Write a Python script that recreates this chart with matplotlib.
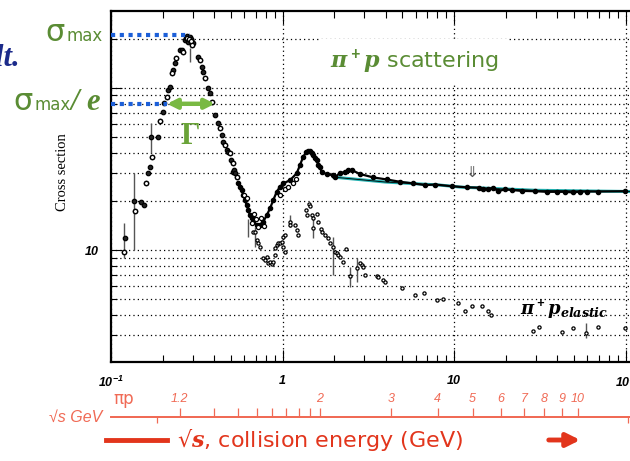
import numpy as np
import matplotlib
matplotlib.use("Agg")
import matplotlib.pyplot as plt
from matplotlib.ticker import NullFormatter, LogLocator
from matplotlib.lines import Line2D

plt.rcParams['mathtext.fontset'] = 'custom'
plt.rcParams['mathtext.rm'] = 'Liberation Sans:italic:bold'
plt.rcParams['mathtext.it'] = 'DejaVu Serif:italic:bold'
plt.rcParams['mathtext.bf'] = 'DejaVu Serif:bold'

# pi+ p total cross section, Delta region (p_lab GeV/c, sigma mb)
delta_p = [0.119, 0.1207, 0.136, 0.138, 0.1496, 0.1557, 0.160, 0.164, 0.1688, 0.1734,
           0.171, 0.188, 0.193, 0.201, 0.2037, 0.212, 0.215, 0.221, 0.227, 0.230,
           0.236, 0.2393, 0.2525, 0.2594, 0.263, 0.270, 0.272, 0.2774, 0.279, 0.281,
           0.284, 0.288, 0.2888, 0.292, 0.294, 0.2965, 0.298, 0.3006,
           0.3214, 0.330, 0.3393, 0.3437, 0.353, 0.3678, 0.3777, 0.388, 0.4038, 0.4206,
           0.4321, 0.4438, 0.4498, 0.462, 0.4746, 0.481, 0.494, 0.501, 0.514, 0.516,
           0.52, 0.528, 0.541]
delta_sig = [9.8, 11.9, 20.0, 17.4, 19.8, 19.0, 25.9, 29.9, 32.5, 37.5,
             50.0, 49.8, 62.5, 71.0, 80.8, 88.0, 97.0, 101.0, 124.0, 129.0,
             143.0, 153.0, 172.0, 172.0, 167.0, 198.0, 205.0, 204.0, 210.0, 192.0,
             200.0, 207.0, 198.0, 196.0, 200.0, 192.0, 185.0, 190.0,
             155.0, 149.0, 135.0, 125.6, 115.0, 100.0, 93.0, 82.0, 68.0, 60.8,
             56.6, 51.3, 46.4, 44.5, 41.4, 40.3, 39.7, 36.0, 30.3, 34.3,
             31.2, 29.8, 28.3]

# pi+ p total cross section above the Delta
tot_p = [0.553, 0.565, 0.578, 0.591, 0.604, 0.618, 0.632, 0.646, 0.661, 0.676,
         0.707, 0.739, 0.773, 0.809, 0.846, 0.884, 0.925, 0.967, 1.01, 1.106,
         1.21, 1.265, 1.32, 1.38, 1.413, 1.446, 1.48, 1.513, 1.548, 1.58,
         1.618, 1.655, 1.69, 1.81, 1.98, 2.02, 2.16, 2.31, 2.42, 2.53,
         2.83, 3.38, 4.05, 4.84, 5.8, 6.78, 7.74, 9.7, 11.9, 13.9,
         14.8, 15.8, 16.9, 18.1, 19.8, 21.7, 24.8, 29.7, 34.7, 39.7,
         44.4, 49.6, 54.3, 59.4, 69.5, 99.3]
tot_sig = [25.8, 24.6, 23.5, 21.9, 20.4, 19.0, 17.7, 16.4, 15.7, 15.0,
           14.3, 14.3, 15.0, 16.4, 18.1, 20.4, 22.9, 24.6, 25.8, 27.0,
           29.8, 33.5, 37.7, 40.4, 41.0, 41.0, 39.9, 38.6, 36.8, 35.9,
           33.5, 32.7, 30.4, 29.4, 29.0, 28.3, 29.8, 30.4, 31.2, 31.2,
           29.5, 28.1, 27.3, 26.4, 25.8, 25.2, 25.4, 24.8, 24.4, 24.3,
           24.0, 23.8, 24.3, 23.1, 23.7, 23.5, 23.2, 23.1, 22.9, 22.9,
           22.9, 22.7, 23.0, 23.0, 23.0, 23.1]

# scattered extra points around the dip and the rise to the second peak
scat_p = [0.60, 0.62, 0.66, 0.68, 0.70, 0.72, 0.75, 0.78, 0.97, 1.03, 1.08, 1.15, 1.2]
scat_sig = [22.0, 21.0, 14.7, 16.8, 15.5, 13.8, 15.8, 14.0, 22.0, 23.8, 24.5, 26.0, 27.5]

# error bars on total cross section
tot_err_p = [0.119, 0.136, 0.171, 0.2888, 0.632]
tot_err_sig = [9.8, 20.0, 50.0, 167.0, 13.5]
tot_err_lo = [8.9, 10.0, 40.0, 145.0, 12.0]
tot_err_hi = [14.7, 30.0, 61.0, 178.0, 15.5]

# smooth fit at high energy
fit_p = [2.0, 4.0, 8.3, 10.8, 30.0, 106.0]
fit_sig = [28.2, 26.3, 25.2, 24.5, 23.4, 23.0]

# pi+ p elastic
el_p = [0.676, 0.692, 0.710, 0.720, 0.739, 0.769, 0.790, 0.812, 0.822, 0.846,
        0.869, 0.881, 0.904, 0.904, 0.929, 0.941, 0.967, 0.993, 1.007, 1.035,
        1.007, 1.035, 1.106, 1.106, 1.183, 1.216, 1.232, 1.371, 1.39, 1.428,
        1.447, 1.486, 1.506, 1.506, 1.589, 1.61, 1.676, 1.70, 1.769, 1.841,
        1.892, 1.968, 2.023, 2.08, 2.108, 2.164, 2.253, 2.346, 2.476, 2.72,
        2.83, 2.91, 2.95, 3.03, 3.56, 3.6, 3.85, 3.96, 4.97, 5.93,
        6.68, 7.96, 8.63, 10.5, 11.6, 12.7, 14.6, 15.8, 16.4, 28.9,
        31.3, 42.7, 49.4, 58.9, 69.2, 99.3]
el_sig = [12.9, 12.9, 11.5, 11.0, 10.4, 8.93, 8.68, 9.05, 8.31, 8.43,
          8.2, 8.43, 9.3, 10.3, 10.7, 11.0, 11.0, 11.2, 12.0, 12.4,
          10.4, 9.7, 14.9, 14.3, 14.3, 13.3, 12.4, 17.7, 16.4, 19.2,
          18.7, 16.4, 15.8, 13.7, 16.7, 14.9, 13.5, 12.9, 12.4, 11.9,
          11.0, 10.4, 9.7, 9.57, 9.3, 9.05, 8.43, 10.1, 6.9, 7.74,
          8.31, 8.07, 7.85, 7.01, 6.9, 6.8, 6.53, 6.34, 5.83, 5.27,
          5.43, 4.91, 4.98, 4.7, 4.2, 4.5, 4.5, 4.2, 3.97, 3.16,
          3.35, 3.12, 3.3, 3.07, 3.35, 3.3]
el_err_p = [0.692, 1.106, 1.506, 1.968, 2.476, 2.72, 58.9]
el_err_sig = [12.9, 14.9, 13.7, 10.4, 6.9, 7.74, 3.07]
el_err_lo = [10.5, 13.9, 11.8, 7.0, 5.9, 6.4, 2.86]
el_err_hi = [13.9, 16.4, 16.0, 12.0, 7.9, 8.9, 3.54]

# sqrt(s) scale for pi p
w_major = [1.2, 2, 3, 4, 5, 6, 7, 8, 9, 10]
w_labels = ['1.2', '2', '3', '4', '5', '6', '7', '8', '9', '10']
w_minor = [1.3, 1.4, 1.5, 1.6, 1.7, 1.8, 1.9]
w_down = [1.155, 14.0]

sig_max = 212.0
sig_e = 80.0
p_max = 0.289
p_half = [0.212, 0.404]

MP = 0.938
MPI = 0.1396


def p_to_w(p):
    p = np.asarray(p, dtype=float)
    e = np.sqrt(p**2 + MPI**2)
    return np.sqrt(MP**2 + MPI**2 + 2 * MP * e)


def w_to_p(w):
    w = np.asarray(w, dtype=float)
    e = (w**2 - MP**2 - MPI**2) / (2 * MP)
    return np.sqrt(np.clip(e**2 - MPI**2, 1e-12, None))


green = '#5a8c34'
salmon = '#f06a55'
red = '#e2351c'
blue = '#1c5fd8'
dots = (0, (1, 2.5))

fig = plt.figure(figsize=(6.3, 4.61), dpi=100)
ax = fig.add_axes([111 / 630, 1 - 362 / 461, 519 / 630, 351 / 461])
ax.set_xscale('log')
ax.set_yscale('log')
ax.set_xlim(0.1, 106.2)
ax.set_ylim(2.04, 299)

ax.xaxis.grid(True, which='major', ls=dots, lw=0.9, color='k')
ax.yaxis.grid(True, which='both', ls=dots, lw=0.9, color='k')
ax.set_axisbelow(True)

ax.set_xticks([0.1, 1, 10, 100], labels=['10$^{-1}$', '1', '10', '10$^{2}$'])
ax.xaxis.set_minor_locator(LogLocator(subs=np.arange(2, 10)))
ax.xaxis.set_minor_formatter(NullFormatter())
ax.set_yticks([10, 100], labels=['10', ''])
ax.yaxis.set_minor_locator(LogLocator(subs=np.arange(2, 10)))
ax.yaxis.set_minor_formatter(NullFormatter())
ax.tick_params(which='both', direction='in', top=True, right=False, width=0.8)
ax.tick_params(axis='x', which='major', length=9, pad=9)
ax.tick_params(axis='x', which='minor', length=5)
ax.tick_params(axis='y', which='major', length=8, pad=9)
ax.tick_params(axis='y', which='minor', length=4)
for t in ax.get_xticklabels() + ax.get_yticklabels():
    t.set_family('Liberation Sans')
    t.set_fontstyle('italic')
    t.set_fontweight('bold')
    t.set_fontsize(9)
for s in ['left', 'bottom', 'top']:
    ax.spines[s].set_linewidth(1.6)
ax.spines['right'].set_visible(False)

# error bars
ax.errorbar(tot_err_p, tot_err_sig,
            yerr=[np.array(tot_err_sig) - tot_err_lo, np.array(tot_err_hi) - tot_err_sig],
            fmt='none', ecolor='#555555', elinewidth=1.0, capsize=0, zorder=2)
ax.errorbar(el_err_p, el_err_sig,
            yerr=[np.array(el_err_sig) - el_err_lo, np.array(el_err_hi) - el_err_sig],
            fmt='none', ecolor='#555555', elinewidth=1.0, capsize=0, zorder=2)

ax.plot(fit_p, fit_sig, color='#22b0b0', lw=2.2, zorder=3)
ax.plot(fit_p, fit_sig, color='k', lw=0.6, zorder=3)

ax.plot(delta_p, delta_sig, 'o', ms=3.2, mfc='#222222', mec='k', mew=0.9, zorder=4)
ax.plot(delta_p[::3], delta_sig[::3], 'o', ms=3.0, mfc='white', mec='k', mew=0.9, zorder=4)
ax.plot(tot_p, tot_sig, '-', color='k', lw=1.6, zorder=4)
ax.plot(tot_p, tot_sig, 'o', ms=3.0, mfc='k', mec='k', zorder=4)
ax.plot(scat_p, scat_sig, 'o', ms=3.0, mfc='white', mec='k', mew=0.9, zorder=4)
ax.plot(el_p, el_sig, 'o', ms=2.3, mfc='white', mec='k', mew=0.9, zorder=4)

# sigma_max and width annotations
ax.plot([0.1, p_max], [sig_max, sig_max], color=blue, lw=3, ls=(0, (1, 1.1)),
        dash_capstyle='butt', zorder=5)
ax.plot([0.1, p_half[0]], [sig_e, sig_e], color=blue, lw=3, ls=(0, (1, 1.1)),
        dash_capstyle='butt', zorder=5)
ax.annotate('', xy=(p_half[1], sig_e), xytext=(p_half[0], sig_e),
            arrowprops=dict(arrowstyle='<|-|>', color='#79b943', lw=3.2,
                            mutation_scale=14, shrinkA=0, shrinkB=0), zorder=6)

ax.text(12.7, 30.3, '\u21d3', fontsize=11, color='#555555', ha='center', va='center',
        family='DejaVu Sans')
ax.text(24.3, 4.33, r'$\pi^+p_{elastic}$', fontsize=13, ha='left', va='center')

# secondary sqrt(s) scale
loc = (362 - 417) / 351
sec = ax.secondary_xaxis(loc, functions=(p_to_w, w_to_p))
sec.set_xticks(w_major, labels=w_labels)
sec.set_xticks(w_minor, minor=True)
sec.xaxis.set_minor_formatter(NullFormatter())
sec.set_alignment('top')
sec.tick_params(which='both', direction='out', length=6.5, width=0.9, color=salmon,
                labelcolor=salmon, labelsize=9, pad=2)
sec.spines['top'].set_color(salmon)
sec.spines['top'].set_linewidth(1.3)
for t in sec.get_xticklabels():
    t.set_family('Liberation Sans')
    t.set_fontstyle('italic')

sec2 = ax.secondary_xaxis(loc, functions=(p_to_w, w_to_p))
sec2.set_xticks(w_down, labels=['' for w in w_down])
sec2.set_xticks([], minor=True)
sec2.tick_params(which='both', direction='out', length=4, width=0.9, color=salmon)
sec2.spines['bottom'].set_color(salmon)
sec2.spines['bottom'].set_linewidth(1.3)

fig.text(113 / 630, 1 - 399 / 461, '\u03c0p', fontsize=12, color=salmon, va='center',
         family='DejaVu Sans')
fig.text(102 / 630, 1 - 417 / 461, '\u221as GeV', fontsize=11.5, color=salmon,
         ha='right', va='center', family=['Liberation Sans', 'DejaVu Sans'], style='italic')

# big axis caption
ycap = 1 - 440 / 461
fig.add_artist(Line2D([106 / 630, 167 / 630], [ycap, ycap], lw=3.5, color=red))
fig.text(177 / 630, ycap, '\u221a$s$, collision energy (GeV)', fontsize=16, color=red,
         ha='left', va='center', family='DejaVu Sans')
fig.add_artist(matplotlib.patches.FancyArrowPatch(
    (546 / 630, ycap), (583 / 630, ycap), transform=fig.transFigure,
    arrowstyle='-|>', mutation_scale=20, lw=3.5, color=red))

# left side labels
fig.text(62 / 630, 1 - 172 / 461, 'Cross section', rotation=90, fontsize=10.5,
         family='Liberation Serif', ha='center', va='center')
fig.text(45 / 630, 1 - 41 / 461, '\u03c3', fontsize=22, color=green, va='baseline',
         family='DejaVu Sans')
fig.text(66 / 630, 1 - 41 / 461, 'max', fontsize=12, color=green, va='baseline',
         family='DejaVu Sans')
fig.text(13 / 630, 1 - 110 / 461, '\u03c3', fontsize=22, color=green, va='baseline',
         family='DejaVu Sans')
fig.text(34 / 630, 1 - 110 / 461, 'max', fontsize=12, color=green, va='baseline',
         family='DejaVu Sans')
fig.text(71 / 630, 1 - 110 / 461, '/', fontsize=22, color=green, va='baseline',
         family='Liberation Serif', style='italic', weight='bold')
fig.text(86 / 630, 1 - 110 / 461, 'e', fontsize=22, color=green, va='baseline',
         family='Liberation Serif', style='italic', weight='bold')
fig.text(190 / 630, 1 - 136 / 461, '\u0393', fontsize=22, color='#6aa338', ha='center',
         va='center', family='Liberation Serif', weight='bold')
fig.text(21 / 630, 1 - 66 / 461, 'ult.', fontsize=22, color='#1b2a8a', ha='right',
         va='baseline', family='Liberation Serif', style='italic', weight='bold')

fig.text(330 / 630, 1 - 62 / 461, r'$\pi^+p$ scattering', fontsize=16, color=green,
         ha='left', va='center', family='DejaVu Sans',
         bbox=dict(boxstyle='square,pad=0.4', fc='white', ec='none'))

fig.savefig('out.png', dpi=100)
